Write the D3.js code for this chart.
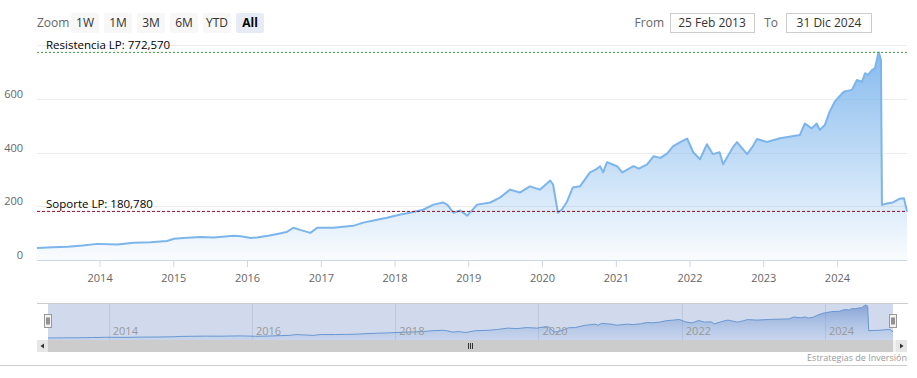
<!DOCTYPE html>
<html>
<head>
<meta charset="utf-8">
<script src="https://cdn.jsdelivr.net/npm/d3@7"></script>
<style>
  body { margin: 0; background: #fff; }
  svg { font-family: "Open Sans", "DejaVu Sans", sans-serif; }
</style>
</head>
<body>
<svg width="917" height="378"></svg>
<script>
// precio de cierre (lectura aproximada del grafico)
var dates = [
  "2013-02-25","2013-05-15","2013-07-26","2013-10-10","2013-12-20","2014-03-30","2014-06-18","2014-09-10",
  "2014-12-01","2015-01-05","2015-02-20","2015-05-15","2015-07-20","2015-10-27","2015-12-01","2016-01-20",
  "2016-02-20","2016-04-15","2016-05-30","2016-07-15","2016-08-18","2016-09-20","2016-11-10","2016-12-14",
  "2017-03-03","2017-04-22","2017-06-10","2017-07-30","2017-10-07","2017-11-24","2018-01-30","2018-03-18",
  "2018-05-22","2018-07-13","2018-08-29","2018-09-20","2018-10-19","2018-11-22","2018-12-27","2019-02-14",
  "2019-04-20","2019-06-07","2019-07-27","2019-09-13","2019-11-02","2019-12-23","2020-02-11","2020-02-25",
  "2020-03-20","2020-04-08","2020-05-04","2020-06-02","2020-07-07","2020-08-26","2020-09-20","2020-10-15",
  "2020-10-30","2020-11-18","2021-01-07","2021-02-02","2021-03-29","2021-04-25","2021-06-05","2021-07-06",
  "2021-08-10","2021-09-13","2021-10-12","2021-11-25","2021-12-20","2022-01-19","2022-02-22","2022-03-28",
  "2022-04-26","2022-05-30","2022-06-16","2022-08-04","2022-08-24","2022-10-13","2022-11-11","2022-12-01",
  "2023-01-19","2023-03-25","2023-07-01","2023-07-26","2023-08-29","2023-09-23","2023-10-08","2023-11-02",
  "2023-11-26","2023-12-21","2024-01-05","2024-02-04","2024-03-15","2024-04-09","2024-05-04","2024-05-19",
  "2024-06-03","2024-06-23","2024-07-07","2024-07-22","2024-07-27","2024-08-06","2024-08-11","2024-09-05",
  "2024-10-04","2024-11-08","2024-11-28","2024-12-13"
];
var values = [
  45, 47, 49, 54, 60, 58, 64, 66,
  71, 79, 82, 86, 84, 90, 88, 82,
  84, 90, 97, 104, 120, 112, 101, 120,
  120, 124, 127, 139, 150, 157, 169, 176,
  187, 206, 214, 205, 176, 184, 165, 206,
  214, 232, 262, 251, 274, 262, 296, 281,
  176, 187, 217, 270, 274, 326, 335, 349,
  326, 364, 349, 326, 349, 340, 356, 386,
  380, 397, 424, 442, 452, 401, 375, 431,
  394, 401, 356, 420, 439, 394, 424, 450,
  439, 453, 465, 508, 490, 508, 484, 502,
  552, 589, 602, 626, 633, 670, 663, 695,
  688, 707, 713, 763, 772, 744, 205, 210,
  214, 228, 230, 180
];
var yTicks = [0, 200, 400, 600, 800];
var navTicks = [2014, 2016, 2018, 2020, 2022, 2024];
var zoomButtons = ["1W", "1M", "3M", "6M", "YTD", "All"];
var fromLabel = "25 Feb 2013", toLabel = "31 Dic 2024";
var resistencia = 772.570, soporte = 180.780;

var svg = d3.select("svg");
var parse = d3.timeParse("%Y-%m-%d");
var data = dates.map(function (d, i) { return { date: parse(d), value: values[i] }; });
var es = d3.formatLocale({ decimal: ",", thousands: ".", grouping: [3], currency: ["", "€"] });
var fmt = es.format(".3f");

var plotL = 37, plotR = 907, plotT = 45, plotB = 260;

var x = d3.scaleTime()
    .domain(d3.extent(data, function (d) { return d.date; }))
    .range([plotL, plotR]);
var y = d3.scaleLinear().domain([0, 800]).range([plotB, plotT]);

var defs = svg.append("defs");
var grad = defs.append("linearGradient").attr("id", "areaGrad")
    .attr("gradientUnits", "userSpaceOnUse")
    .attr("x1", 0).attr("x2", 0).attr("y1", plotT).attr("y2", plotB);
grad.append("stop").attr("offset", "0%").attr("stop-color", "#7cb5ec").attr("stop-opacity", 0.95);
grad.append("stop").attr("offset", "100%").attr("stop-color", "#7cb5ec").attr("stop-opacity", 0.04);

// range selector
svg.append("text").attr("x", 37).attr("y", 27).attr("fill", "#666").style("font-size", "12px").text("Zoom");
var btn = svg.selectAll("g.btn").data(zoomButtons).enter().append("g")
    .attr("class", "btn")
    .attr("transform", function (d, i) { return "translate(" + (71 + i * 33) + ",13)"; });
btn.append("rect").attr("width", 28).attr("height", 20).attr("rx", 2)
    .attr("fill", function (d) { return d === "All" ? "#e6ebf5" : "#f7f7f7"; });
btn.append("text").attr("x", 14).attr("y", 14).attr("text-anchor", "middle")
    .style("font-size", "12px")
    .style("font-weight", function (d) { return d === "All" ? "bold" : "normal"; })
    .attr("fill", function (d) { return d === "All" ? "#000" : "#333"; })
    .text(function (d) { return d; });

svg.append("text").attr("x", 664).attr("y", 27).attr("text-anchor", "end").attr("fill", "#666")
    .style("font-size", "12px").text("From");
svg.append("rect").attr("x", 670.5).attr("y", 13.5).attr("width", 84).attr("height", 19)
    .attr("fill", "#fff").attr("stroke", "#ccc");
svg.append("text").attr("x", 712).attr("y", 27).attr("text-anchor", "middle").attr("fill", "#333")
    .style("font-size", "12px").text(fromLabel);
svg.append("text").attr("x", 778).attr("y", 27).attr("text-anchor", "end").attr("fill", "#666")
    .style("font-size", "12px").text("To");
svg.append("rect").attr("x", 786.5).attr("y", 13.5).attr("width", 85).attr("height", 19)
    .attr("fill", "#fff").attr("stroke", "#ccc");
svg.append("text").attr("x", 829).attr("y", 27).attr("text-anchor", "middle").attr("fill", "#333")
    .style("font-size", "12px").text(toLabel);

// grid
svg.append("g").selectAll("line").data(yTicks).enter().append("line")
    .attr("x1", plotL).attr("x2", plotR)
    .attr("y1", function (d) { return Math.round(y(d)) + 0.5; })
    .attr("y2", function (d) { return Math.round(y(d)) + 0.5; })
    .attr("stroke", function (d) { return d === 0 ? "#ccd6eb" : "#ececec"; });

svg.append("g").selectAll("text").data(yTicks.slice(0, -1)).enter().append("text")
    .attr("x", 23).attr("y", function (d) { return y(d) - 1; })
    .attr("text-anchor", "end").attr("fill", "#666").style("font-size", "11px")
    .text(function (d) { return d; });

// x axis
var xAxis = d3.axisBottom(x).ticks(d3.timeYear.every(1)).tickSize(7).tickFormat(d3.timeFormat("%Y"));
var gx = svg.append("g").attr("transform", "translate(0," + plotB + ")").call(xAxis);
gx.select(".domain").remove();
gx.selectAll(".tick line").attr("stroke", "#ccd6eb");
gx.selectAll(".tick text").attr("fill", "#666").attr("dy", "1.1em")
    .style("font-size", "11px").style("font-family", "\"Open Sans\", sans-serif");

// series
var area = d3.area().x(function (d) { return x(d.date); }).y0(plotB).y1(function (d) { return y(d.value); });
var line = d3.line().x(function (d) { return x(d.date); }).y(function (d) { return y(d.value); });
svg.append("path").datum(data).attr("d", area).attr("fill", "url(#areaGrad)");
svg.append("path").datum(data).attr("d", line).attr("fill", "none")
    .attr("stroke", "#7cb5ec").attr("stroke-width", 2).attr("stroke-linejoin", "round");

// soporte / resistencia
svg.append("line").attr("x1", plotL).attr("x2", plotR)
    .attr("y1", y(resistencia)).attr("y2", y(resistencia))
    .attr("stroke", "#3a9a3a").attr("stroke-dasharray", "2,2");
svg.append("text").attr("x", 46).attr("y", y(resistencia) - 3).attr("fill", "#000")
    .style("font-size", "11.5px").text("Resistencia LP: " + fmt(resistencia));
svg.append("line").attr("x1", plotL).attr("x2", plotR)
    .attr("y1", y(soporte)).attr("y2", y(soporte))
    .attr("stroke", "#9b0a1e").attr("stroke-dasharray", "3,2");
svg.append("text").attr("x", 46).attr("y", y(soporte) - 3).attr("fill", "#000")
    .style("font-size", "11.5px").text("Soporte LP: " + fmt(soporte));

// navigator
var nTop = 303, nBottom = 340, nL = 48, nR = 893;
var nx = d3.scaleTime().domain(x.domain()).range([nL, nR]);
var ny = d3.scaleLinear().domain([0, d3.max(values)]).range([nBottom, nTop + 2]);

var ngrad = defs.append("linearGradient").attr("id", "navGrad")
    .attr("gradientUnits", "userSpaceOnUse")
    .attr("x1", 0).attr("x2", 0).attr("y1", nTop).attr("y2", nBottom);
ngrad.append("stop").attr("offset", "0%").attr("stop-color", "#4572c4").attr("stop-opacity", 0.6);
ngrad.append("stop").attr("offset", "100%").attr("stop-color", "#7cb5ec").attr("stop-opacity", 0.1);

svg.append("g").selectAll("line").data(navTicks).enter().append("line")
    .attr("x1", function (d) { return Math.round(nx(new Date(d, 0, 1))) + 0.5; })
    .attr("x2", function (d) { return Math.round(nx(new Date(d, 0, 1))) + 0.5; })
    .attr("y1", nTop).attr("y2", nBottom).attr("stroke", "#e6e6e6");

var narea = d3.area().x(function (d) { return nx(d.date); }).y0(nBottom).y1(function (d) { return ny(d.value); });
var nline = d3.line().x(function (d) { return nx(d.date); }).y(function (d) { return ny(d.value); });
svg.append("path").datum(data).attr("d", narea).attr("fill", "url(#navGrad)");
svg.append("path").datum(data).attr("d", nline).attr("fill", "none").attr("stroke", "#6a9fd8").attr("stroke-width", 1);

svg.append("rect").attr("x", nL).attr("y", nTop).attr("width", nR - nL).attr("height", nBottom - nTop)
    .attr("fill", "rgba(102,133,194,0.3)");
svg.append("line").attr("x1", plotL).attr("x2", plotR + 1).attr("y1", nTop + 0.5).attr("y2", nTop + 0.5)
    .attr("stroke", "#cccccc");

svg.append("g").selectAll("text").data(navTicks).enter().append("text")
    .attr("x", function (d) { return nx(new Date(d, 0, 1)) + 4; })
    .attr("y", 335).attr("fill", "#999").style("font-size", "11px")
    .text(function (d) { return d; });

[nL, nR].forEach(function (hx) {
  var h = svg.append("g").attr("transform", "translate(" + (Math.round(hx) - 3.5) + ",314.5)");
  h.append("rect").attr("width", 7).attr("height", 13).attr("fill", "#f2f2f2").attr("stroke", "#999");
  h.append("line").attr("x1", 2.5).attr("x2", 2.5).attr("y1", 3).attr("y2", 10).attr("stroke", "#333");
  h.append("line").attr("x1", 4.5).attr("x2", 4.5).attr("y1", 3).attr("y2", 10).attr("stroke", "#333");
});

// scrollbar
svg.append("rect").attr("x", plotL).attr("y", 340).attr("width", plotR - plotL).attr("height", 12).attr("fill", "#f2f2f2");
svg.append("rect").attr("x", nL).attr("y", 340).attr("width", nR - nL).attr("height", 12).attr("fill", "#cccccc");
svg.append("rect").attr("x", plotL).attr("y", 340).attr("width", 11).attr("height", 12).attr("fill", "#e6e6e6");
svg.append("rect").attr("x", plotR - 11).attr("y", 340).attr("width", 11).attr("height", 12).attr("fill", "#e6e6e6");
svg.append("path").attr("d", "M44,343.5 L40.5,346 L44,348.5 Z").attr("fill", "#333");
svg.append("path").attr("d", "M900,343.5 L903.5,346 L900,348.5 Z").attr("fill", "#333");
[-2, 0, 2].forEach(function (o) {
  svg.append("line").attr("x1", 470.5 + o).attr("x2", 470.5 + o).attr("y1", 343).attr("y2", 349).attr("stroke", "#333");
});

svg.append("text").attr("x", 907).attr("y", 361).attr("text-anchor", "end").attr("fill", "#999")
    .style("font-size", "9px").text("Estrategias de Inversión");
svg.append("line").attr("x1", 0).attr("x2", 907).attr("y1", 365.5).attr("y2", 365.5).attr("stroke", "#ccc");
</script>
</body>
</html>
